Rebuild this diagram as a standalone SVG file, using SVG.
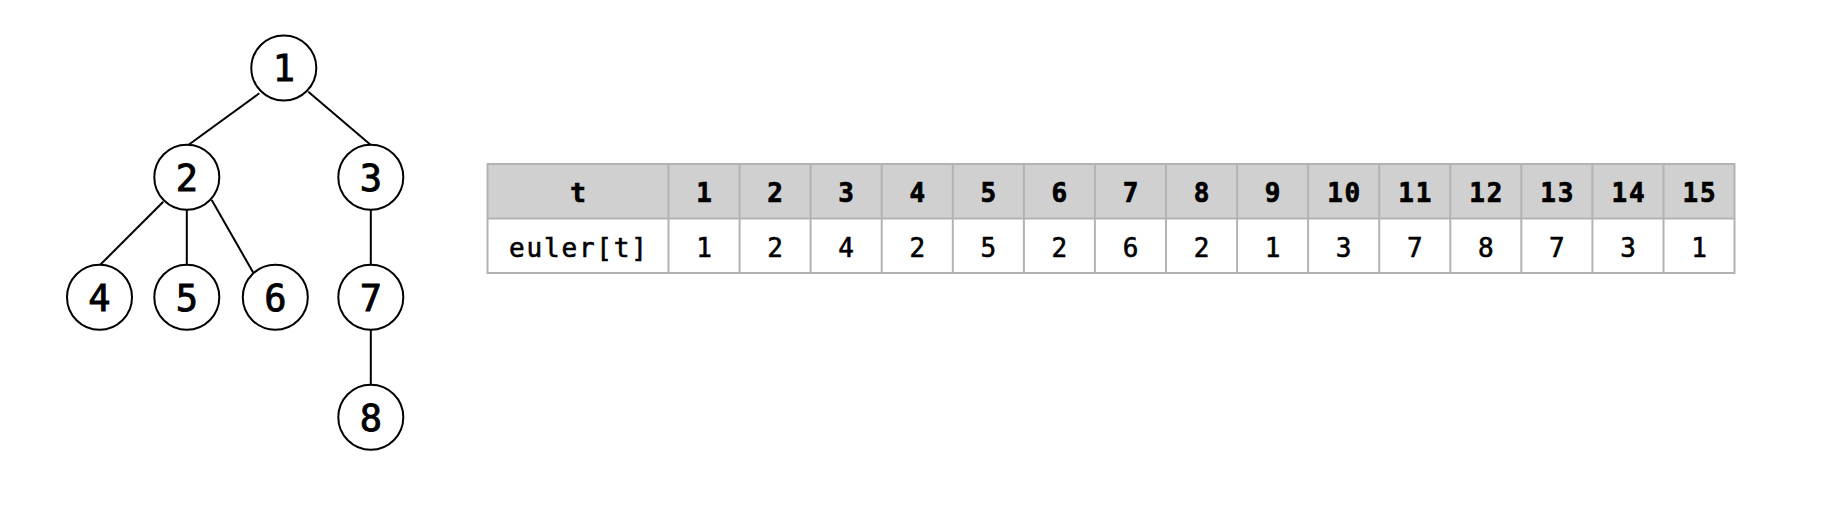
<svg xmlns="http://www.w3.org/2000/svg" width="1836" height="520" viewBox="0 0 1836 520">
<style>
.node circle{fill:#fff;stroke:#000;stroke-width:2}
.node text{font-family:"DejaVu Sans Mono",monospace;font-size:37px;text-anchor:middle;fill:#000;stroke:#000;stroke-width:0.9px}
.edges line{stroke:#000;stroke-width:2}
.grid{stroke:#b3b3b3;stroke-width:2;fill:none}
.th{font-family:"DejaVu Sans Mono",monospace;font-size:26px;font-weight:bold;text-anchor:middle;letter-spacing:1.8px;fill:#000;stroke:#000;stroke-width:0.7px}
.td{font-family:"DejaVu Sans Mono",monospace;font-size:26px;text-anchor:middle;letter-spacing:1.8px;fill:#000;stroke:#000;stroke-width:0.6px}
</style>
<rect width="1836" height="520" fill="#fff"/>
<g class="edges" id="edges">
<line x1="259.3" y1="93.3" x2="188.3" y2="145"/>
<line x1="308.3" y1="91.7" x2="370.8" y2="145"/>
<line x1="163.3" y1="201.7" x2="100" y2="265"/>
<line x1="186.8" y1="209" x2="186.8" y2="265"/>
<line x1="211.7" y1="200" x2="253.3" y2="272.7"/>
<line x1="370.8" y1="209" x2="370.8" y2="265"/>
<line x1="370.8" y1="329" x2="370.8" y2="385"/>
</g>
<g class="node" id="n1"><circle cx="283.8" cy="68" r="32.5"/><text x="283.8" y="80.5">1</text></g>
<g class="node" id="n2"><circle cx="186.8" cy="177.2" r="32.5"/><text x="186.8" y="190.5">2</text></g>
<g class="node" id="n3"><circle cx="370.8" cy="177.2" r="32.5"/><text x="370.8" y="190.5">3</text></g>
<g class="node" id="n4"><circle cx="99.5" cy="297.2" r="32.5"/><text x="99.5" y="310.5">4</text></g>
<g class="node" id="n5"><circle cx="186.8" cy="297.2" r="32.5"/><text x="186.8" y="310.5">5</text></g>
<g class="node" id="n6"><circle cx="275.3" cy="297.2" r="32.5"/><text x="275.3" y="310.5">6</text></g>
<g class="node" id="n7"><circle cx="370.8" cy="297.2" r="32.5"/><text x="370.8" y="310.5">7</text></g>
<g class="node" id="n8"><circle cx="370.8" cy="417.2" r="32.5"/><text x="370.8" y="430.5">8</text></g>
<g id="table">
<rect x="487.5" y="164" width="1247" height="54.5" fill="#d1d0d1"/>
<rect x="487.5" y="218.5" width="1247" height="54.5" fill="#fff"/>
<path class="grid" d="M487.5 164H1734.5V273H487.5Z M487.5 218.5H1734.5 M668.5 164V273 M739.6 164V273 M810.6 164V273 M881.7 164V273 M952.8 164V273 M1023.9 164V273 M1094.9 164V273 M1166 164V273 M1237.1 164V273 M1308.1 164V273 M1379.2 164V273 M1450.3 164V273 M1521.3 164V273 M1592.4 164V273 M1663.5 164V273"/>
<text class="th" x="578.9" y="201.5">t</text>
<text class="th" x="704.9" y="201.5">1</text>
<text class="th" x="776" y="201.5">2</text>
<text class="th" x="847.1" y="201.5">3</text>
<text class="th" x="918.2" y="201.5">4</text>
<text class="th" x="989.2" y="201.5">5</text>
<text class="th" x="1060.3" y="201.5">6</text>
<text class="th" x="1131.4" y="201.5">7</text>
<text class="th" x="1202.5" y="201.5">8</text>
<text class="th" x="1273.5" y="201.5">9</text>
<text class="th" x="1344.6" y="201.5">10</text>
<text class="th" x="1415.7" y="201.5">11</text>
<text class="th" x="1486.8" y="201.5">12</text>
<text class="th" x="1557.8" y="201.5">13</text>
<text class="th" x="1628.9" y="201.5">14</text>
<text class="th" x="1700" y="201.5">15</text>
<text class="td" x="578.9" y="256.7">euler[t]</text>
<text class="td" x="704.9" y="256.7">1</text>
<text class="td" x="776" y="256.7">2</text>
<text class="td" x="847.1" y="256.7">4</text>
<text class="td" x="918.2" y="256.7">2</text>
<text class="td" x="989.2" y="256.7">5</text>
<text class="td" x="1060.3" y="256.7">2</text>
<text class="td" x="1131.4" y="256.7">6</text>
<text class="td" x="1202.5" y="256.7">2</text>
<text class="td" x="1273.5" y="256.7">1</text>
<text class="td" x="1344.6" y="256.7">3</text>
<text class="td" x="1415.7" y="256.7">7</text>
<text class="td" x="1486.8" y="256.7">8</text>
<text class="td" x="1557.8" y="256.7">7</text>
<text class="td" x="1628.9" y="256.7">3</text>
<text class="td" x="1700" y="256.7">1</text>
</g>
</svg>
